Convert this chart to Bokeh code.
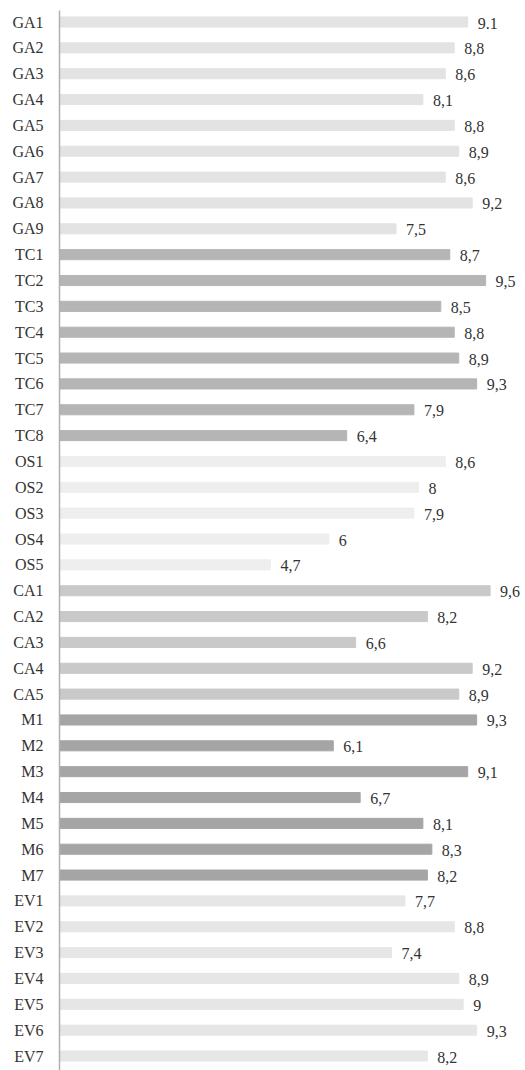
from bokeh.plotting import figure
from bokeh.models import ColumnDataSource, Range1d, FixedTicker
from bokeh.core.properties import value
from bokeh.embed import file_html
from bokeh.resources import INLINE

categories = ["GA1", "GA2", "GA3", "GA4", "GA5", "GA6", "GA7", "GA8", "GA9",
              "TC1", "TC2", "TC3", "TC4", "TC5", "TC6", "TC7", "TC8",
              "OS1", "OS2", "OS3", "OS4", "OS5",
              "CA1", "CA2", "CA3", "CA4", "CA5",
              "M1", "M2", "M3", "M4", "M5", "M6", "M7",
              "EV1", "EV2", "EV3", "EV4", "EV5", "EV6", "EV7"]
values = [9.1, 8.8, 8.6, 8.1, 8.8, 8.9, 8.6, 9.2, 7.5,
          8.7, 9.5, 8.5, 8.8, 8.9, 9.3, 7.9, 6.4,
          8.6, 8.0, 7.9, 6.0, 4.7,
          9.6, 8.2, 6.6, 9.2, 8.9,
          9.3, 6.1, 9.1, 6.7, 8.1, 8.3, 8.2,
          7.7, 8.8, 7.4, 8.9, 9.0, 9.3, 8.2]
value_labels = ["9.1", "8,8", "8,6", "8,1", "8,8", "8,9", "8,6", "9,2", "7,5",
                "8,7", "9,5", "8,5", "8,8", "8,9", "9,3", "7,9", "6,4",
                "8,6", "8", "7,9", "6", "4,7",
                "9,6", "8,2", "6,6", "9,2", "8,9",
                "9,3", "6,1", "9,1", "6,7", "8,1", "8,3", "8,2",
                "7,7", "8,8", "7,4", "8,9", "9", "9,3", "8,2"]
group_colors = {"GA": "#e3e3e3", "TC": "#b5b5b5", "OS": "#eeeeee",
                "CA": "#c9c9c9", "M": "#a5a5a5", "EV": "#e6e6e6"}

colors = [group_colors[c.rstrip("0123456789")] for c in categories]
positions = list(range(len(categories)))

src = ColumnDataSource(dict(y=positions, v=values, lab=value_labels, c=colors))

p = figure(width=525, height=1070, output_backend="svg", toolbar_location=None,
           x_range=Range1d(-0.01, 10.39), y_range=Range1d(40.56, -0.445),
           x_axis_location=None, min_border_left=59, min_border_right=0,
           min_border_top=10, min_border_bottom=0)
p.outline_line_color = None
p.xgrid.visible = False
p.ygrid.visible = False

p.hbar(y="y", left=0, right="v", height=0.39, color="c", source=src)
p.text(x="v", y="y", text="lab", source=src, x_offset=10, y_offset=1,
       text_baseline="middle", text_align="left",
       text_font=value("Liberation Serif"), text_font_size="16px",
       text_color="#333333")

ax = p.yaxis[0]
ax.ticker = FixedTicker(ticks=positions)
ax.major_label_overrides = {i: c for i, c in enumerate(categories)}
ax.major_tick_line_color = None
ax.major_tick_out = 0
ax.major_tick_in = 0
ax.minor_tick_line_color = None
ax.axis_line_color = "#b0b0b0"
ax.axis_line_width = 1.5
ax.major_label_standoff = 16
ax.major_label_text_font = "Liberation Serif"
ax.major_label_text_font_size = "16px"
ax.major_label_text_color = "#333333"

open("out.html", "w").write(file_html(p, INLINE))
